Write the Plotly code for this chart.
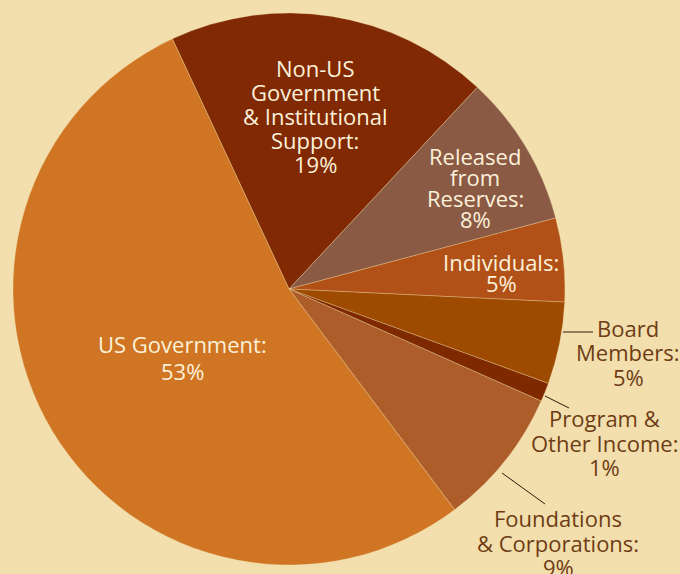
import plotly.graph_objects as go

# Data (clockwise order starting at the Non-US slice)
categories = ["Non-US Government & Institutional Support", "Released from Reserves",
              "Individuals", "Board Members", "Program & Other Income",
              "Foundations & Corporations", "US Government"]
values = [18.9, 8.9, 4.9, 4.8, 1.1, 8.1, 53.3]
label_lines = [["Non-US", "Government", "& Institutional", "Support:", "19%"],
               ["Released", "from", "Reserves:", "8%"],
               ["Individuals:", "5%"],
               ["Board", "Members:", "5%"],
               ["Program &", "Other Income:", "1%"],
               ["Foundations", "& Corporations:", "9%"],
               ["US Government:", "53%"]]

colors = ["#812903", "#8A5A44", "#B25117", "#9E4A00", "#7F2900", "#AD5D29", "#CF7523"]
BG = "#F2DFAD"
W, H = 680, 574

fig = go.Figure(go.Pie(
    labels=categories, values=values, sort=False, direction="clockwise",
    rotation=-25, textinfo="none", hoverinfo="label+percent",
    marker=dict(colors=colors, line=dict(color="rgba(242,223,173,0.55)", width=0.6)),
    domain=dict(x=[13 / W, 565 / W], y=[1 - 565 / H, 1 - 13 / H]),
    showlegend=False,
))

inside = "#FCF1DA"
outside = "#6E3C14"
# label placement: centre x, first-line y, line spacing (pixels), colour
placements = [
    (315, 68, 24.1, inside),
    (475, 155.5, 21.3, inside),
    (501, 261.5, 21, inside),
    (628, 327.5, 24.8, outside),
    (604, 418, 24.5, outside),
    (558, 518, 24.5, outside),
    (182, 343.5, 27, inside),
]
for lines, (px, py, dy, col) in zip(label_lines, placements):
    for i, line in enumerate(lines):
        fig.add_annotation(x=px / W, y=1 - (py + i * dy) / H, xref="paper", yref="paper",
                           text=line, showarrow=False, xanchor="center", yanchor="middle",
                           align="center", font=dict(family="Open Sans", size=22, color=col))

# leader lines
leaders = [((563, 332), (593, 332)), ((545, 396), (569, 408)), ((502, 473), (545, 504))]
for (x0, y0), (x1, y1) in leaders:
    fig.add_shape(type="line", xref="paper", yref="paper",
                  x0=x0 / W, y0=1 - y0 / H, x1=x1 / W, y1=1 - y1 / H,
                  line=dict(color="#2A1A0A", width=1))

fig.update_layout(width=W, height=H, margin=dict(l=0, r=0, t=0, b=0),
                  paper_bgcolor=BG, plot_bgcolor=BG)
fig.write_html("out.html", config={"displayModeBar": False},
               post_script="document.body.style.margin='0';document.body.style.padding='0';"
                           "document.body.style.background='" + BG + "';")
